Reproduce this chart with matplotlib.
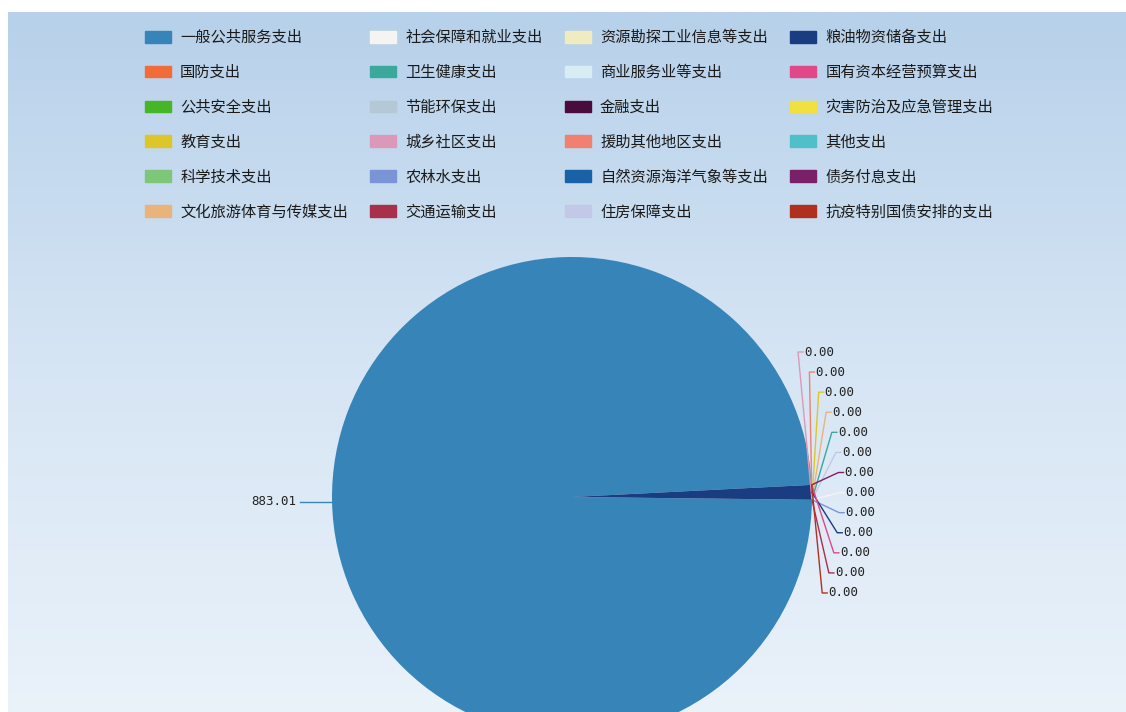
import numpy as np
import matplotlib
matplotlib.use('Agg')
import matplotlib.pyplot as plt
from matplotlib.colors import LinearSegmentedColormap

plt.rcParams['font.family'] = ['Noto Sans CJK SC', 'DejaVu Sans']

# 支出分类（图例顺序）
categories = [
    '一般公共服务支出', '国防支出', '公共安全支出', '教育支出', '科学技术支出',
    '文化旅游体育与传媒支出', '社会保障和就业支出', '卫生健康支出', '节能环保支出',
    '城乡社区支出', '农林水支出', '交通运输支出', '资源勘探工业信息等支出',
    '商业服务业等支出', '金融支出', '援助其他地区支出', '自然资源海洋气象等支出',
    '住房保障支出', '粮油物资储备支出', '国有资本经营预算支出', '灾害防治及应急管理支出',
    '其他支出', '债务付息支出', '抗疫特别国债安排的支出'
]
values = [883.01, 0, 0, 0, 0, 0, 0, 0, 0, 0, 0, 0, 0, 0, 0, 0, 0, 0,
          0.004, 0, 0, 0, 0, 0]
colors = [
    '#3785b8', '#f26c3a', '#46b527', '#dcc62a', '#7dc67a', '#e8b47c',
    '#f4f4f1', '#3aa89a', '#b4c8d6', '#dc98b8', '#7b94d6', '#a8304a',
    '#f0ecc0', '#d8ecf4', '#4a0c3c', '#f08070', '#1a62a8', '#c4c8e8',
    '#1a3c80', '#e04888', '#f0e040', '#50c0c8', '#7a2068', '#b03020'
]
# 右侧显示标签的项目（自上而下）
label_shown = ['城乡社区支出', '援助其他地区支出', '教育支出', '文化旅游体育与传媒支出',
               '卫生健康支出', '住房保障支出', '债务付息支出', '社会保障和就业支出',
               '农林水支出', '粮油物资储备支出', '国有资本经营预算支出', '交通运输支出',
               '抗疫特别国债安排的支出']

W, H = 1126, 712
fig = plt.figure(figsize=(W / 100, H / 100), dpi=100)
fig.patch.set_facecolor('white')
ax = fig.add_axes([0, 0, 1, 1])
ax.set_facecolor('white')

# 背景渐变（上深下浅）
bg = LinearSegmentedColormap.from_list('bg', ['#b7d1ea', '#d6e5f4', '#eaf2fa'])
grad = np.linspace(0, 1, 256).reshape(-1, 1)
ax.imshow(grad, cmap=bg, extent=(8, W, 0, H - 12), aspect='auto',
          origin='upper', zorder=0)

vals = np.array(values, dtype=float)
total = vals.sum()
# 类似 minAngle：很小的非零值显示为最小角度
min_frac = 0.01
shown = np.where((vals > 0) & (vals < total * min_frac), total * min_frac, vals)

cx, cy, R = 572, H - 497, 240
wedges, _ = ax.pie(shown, colors=colors, startangle=2.9, counterclock=True,
                   center=(cx, cy), radius=R,
                   wedgeprops=dict(linewidth=0, zorder=2))
ax.set_xlim(0, W)
ax.set_ylim(0, H)
ax.set_aspect('equal')
ax.axis('off')

mid = {}
for name, w in zip(categories, wedges):
    mid[name] = np.deg2rad((w.theta1 + w.theta2) / 2)

# 主扇区标签（左侧）
a = mid[categories[0]]
ex, ey = cx + R * np.cos(a), cy + R * np.sin(a)
ax.plot([ex, ex - 32], [ey, ey], color=colors[0], lw=1, zorder=3)
ax.text(ex - 36, ey, '%.2f' % values[0], ha='right', va='center',
        fontsize=9, family='DejaVu Sans Mono', color='#222222')

# 右侧标签
slot_y = np.linspace(cy + 145, cy - 96, len(label_shown))
rl = R * 1.14
for name, ly in zip(label_shown, slot_y):
    i = categories.index(name)
    a = mid[name]
    ex, ey = cx + R * np.cos(a), cy + R * np.sin(a)
    lx = cx + np.sqrt(rl ** 2 - (ly - cy) ** 2)
    ax.plot([ex, lx - 6, lx - 1], [ey, ly, ly], color=colors[i], lw=1, zorder=3)
    ax.text(lx, ly, '%.2f' % values[i], ha='left', va='center',
            fontsize=9, family='DejaVu Sans Mono', color='#222222')

handles = [plt.Rectangle((0, 0), 1, 1, color=c) for c in colors]
fig.legend(handles, categories, ncol=4, loc='upper left',
           bbox_to_anchor=(145 / W, 1 - 29 / H), frameon=False,
           fontsize=11, handlelength=1.7, handleheight=0.8,
           handletextpad=0.6, labelspacing=1.17, columnspacing=1.46,
           borderpad=0, borderaxespad=0, labelcolor='#1a1a1a')

fig.savefig('out.png', dpi=100, facecolor=fig.get_facecolor())
